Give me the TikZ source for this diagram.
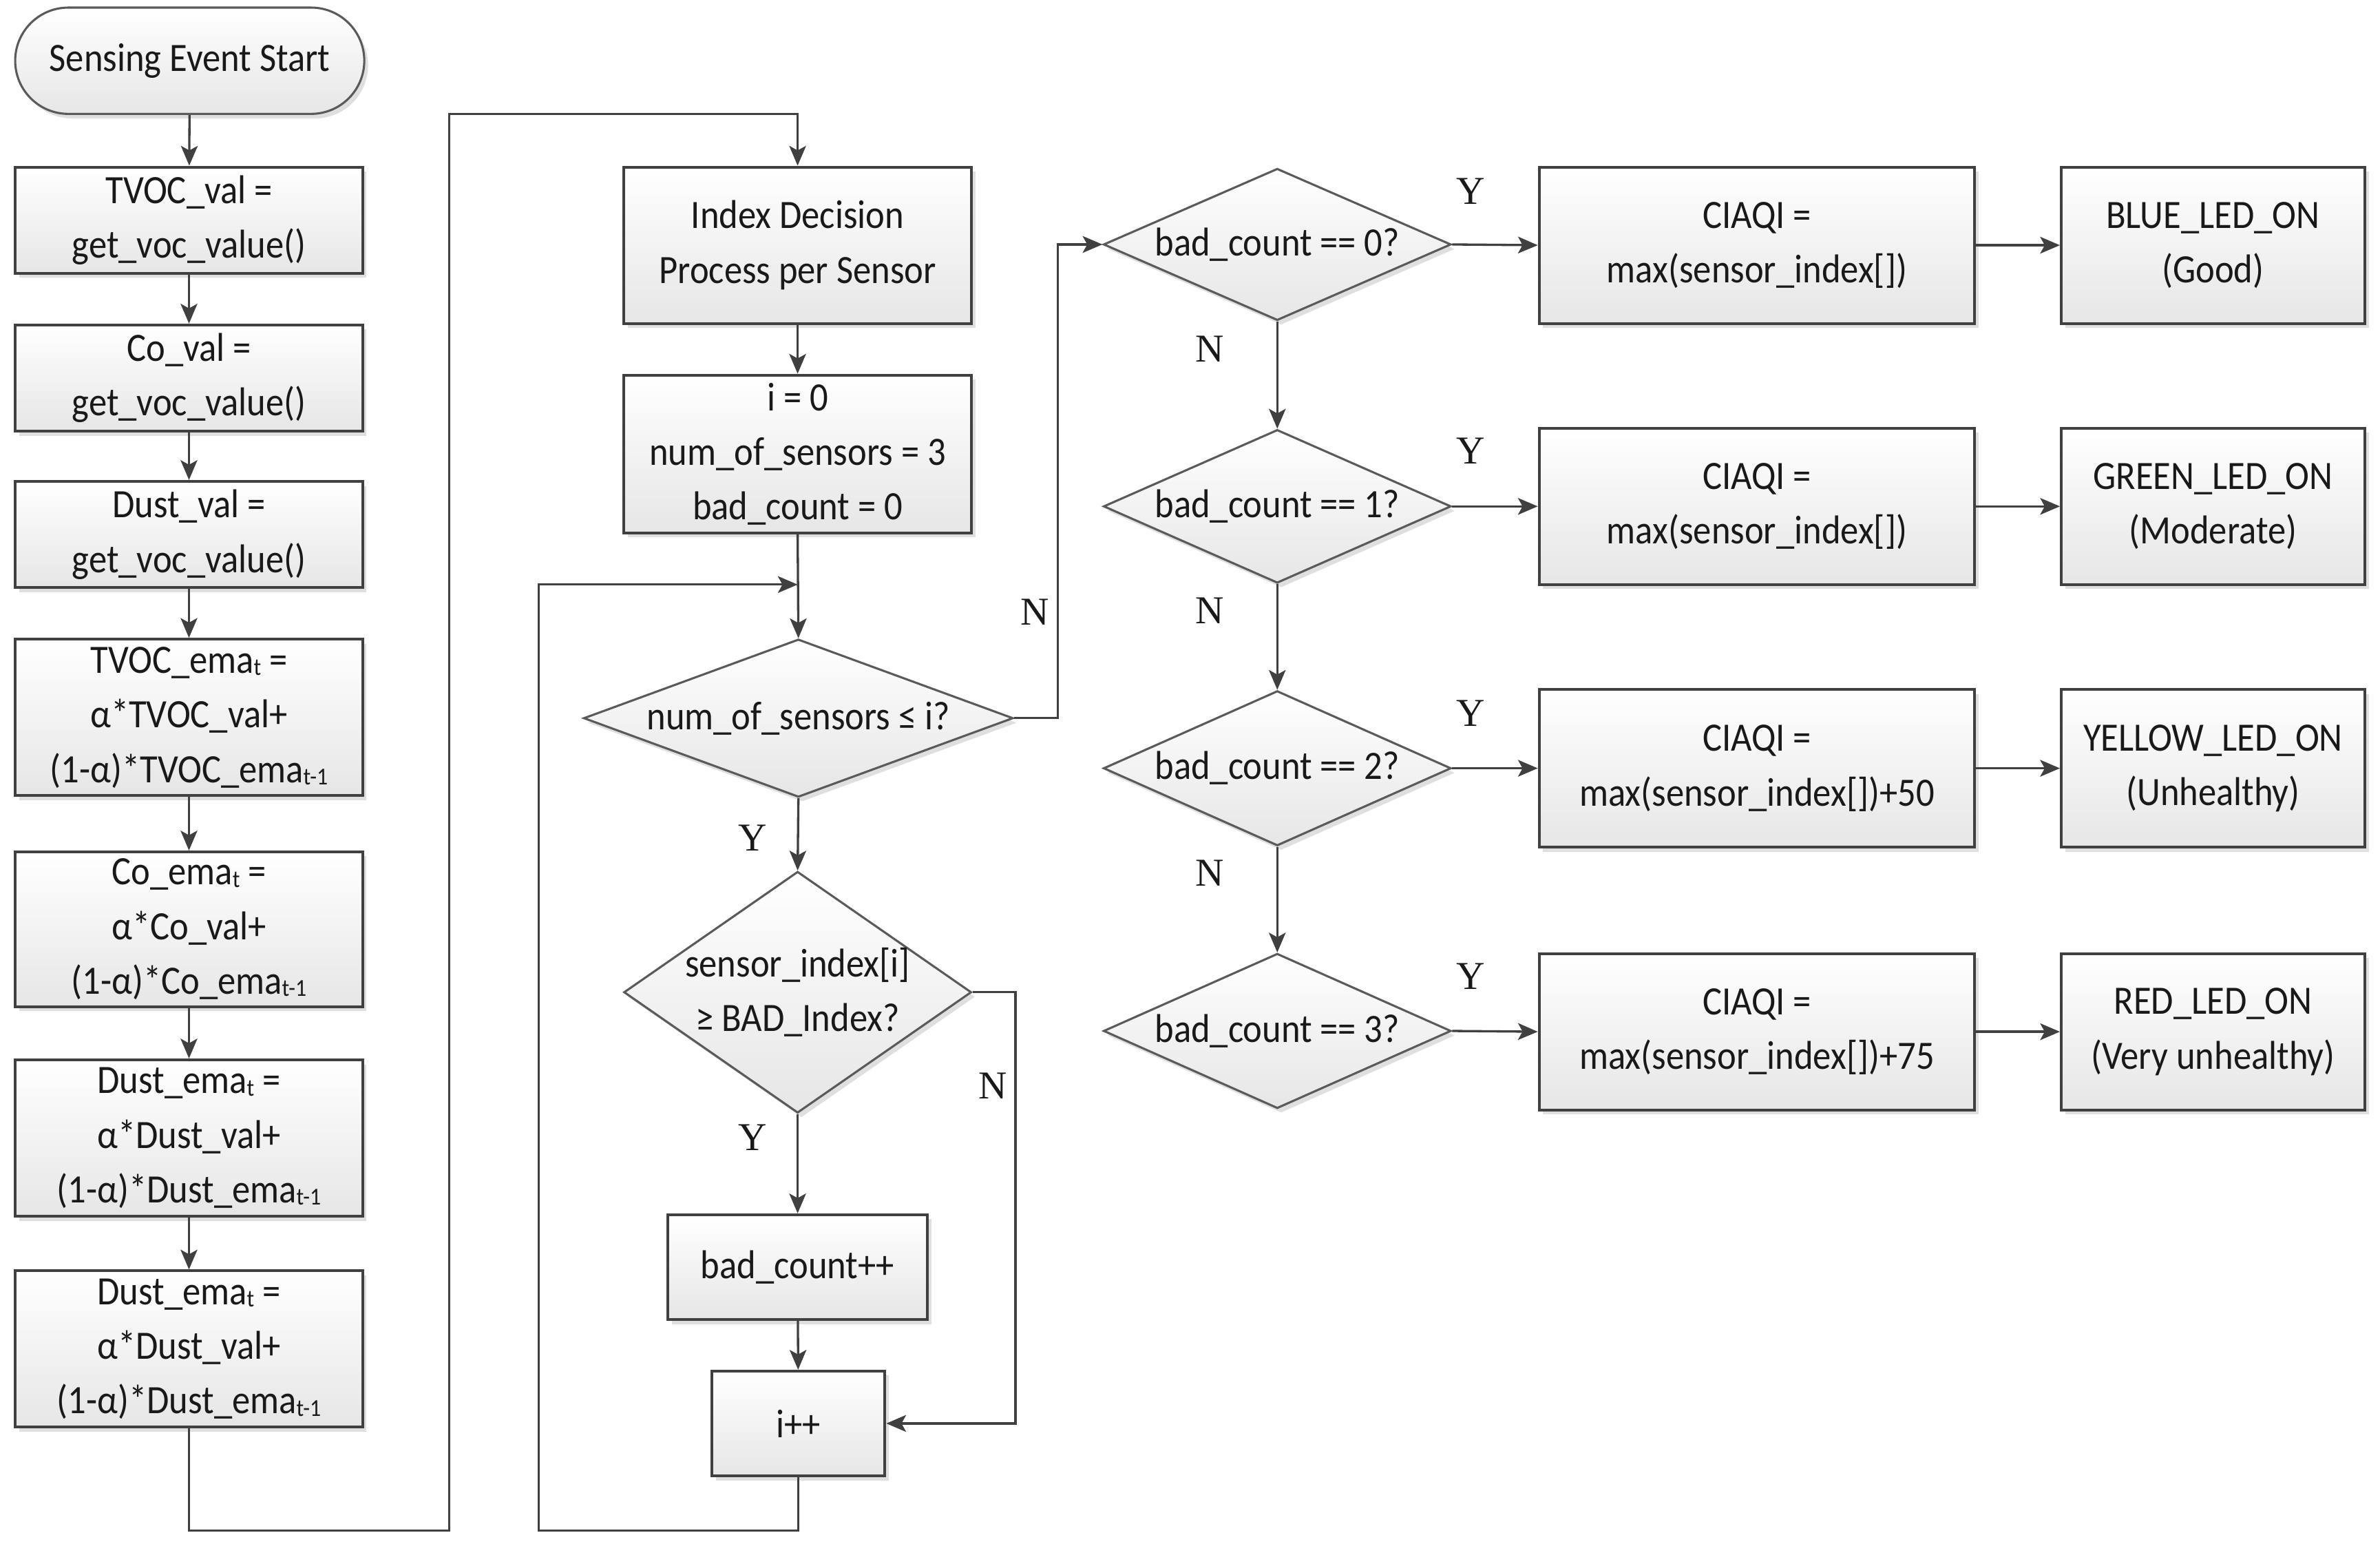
\documentclass[tikz,border=0pt]{standalone}
\usepackage{fontspec}
\setmainfont{Carlito}[FakeStretch=0.9]
\newfontfamily\ynfont{Liberation Serif}
\usetikzlibrary{arrows.meta,shapes.geometric,shapes.misc,shadows}
\definecolor{linec}{RGB}{64,64,64}
\definecolor{dline}{RGB}{90,90,90}
\definecolor{fillc}{RGB}{230,230,230}
\definecolor{txtc}{RGB}{25,25,25}
\newcommand\sbt[1]{\raisebox{-1.5pt}{\fontsize{16}{16}\selectfont #1}}
\begin{document}
\begin{tikzpicture}[x=1pt,y=-1pt,
  font=\fontsize{26.5}{36}\selectfont,
  every node/.style={text=txtc},
  shd/.style={drop shadow={shadow xshift=2.5pt,shadow yshift=-3pt,opacity=0.25,fill=gray}},
  box/.style={draw=linec,line width=1.8pt,top color=white,bottom color=fillc,
    inner sep=0pt,align=center,shd},
  dia/.style={diamond,draw=dline,line width=1.4pt,top color=white,bottom color=fillc,
    inner sep=0pt,shd},
  term/.style={rounded rectangle,draw=dline,line width=1.4pt,top color=white,bottom color=fillc,
    inner sep=0pt,shd},
  lbl/.style={align=center,inner sep=0pt},
  yn/.style={font=\ynfont\fontsize{26}{26}\selectfont,inner sep=0pt},
  arr/.style={draw=linec,line width=1.5pt,-{Stealth[length=13pt,width=11pt,inset=3pt]}},
  ln/.style={draw=linec,line width=1.5pt}]
\useasboundingbox (0,0) rectangle (1568,1016.5);
\fill[white] (0,0) rectangle (1568,1016.5);

% left column
\node[term,minimum width=230pt,minimum height=70pt] (start) at (125,40) {Sensing Event Start};
\node[box,minimum width=229pt,minimum height=70pt] (b1) at (124.5,145) {TVOC\_val =\\get\_voc\_value()};
\node[box,minimum width=229pt,minimum height=70pt] (b2) at (124.5,249) {Co\_val =\\get\_voc\_value()};
\node[box,minimum width=229pt,minimum height=70pt] (b3) at (124.5,352) {Dust\_val =\\get\_voc\_value()};
\node[box,minimum width=229pt,minimum height=103pt] (b4) at (124.5,472.5) {TVOC\_ema\sbt{t} =\\α*TVOC\_val+\\(1-α)*TVOC\_ema\sbt{t-1}};
\node[box,minimum width=229pt,minimum height=102pt] (b5) at (124.5,612) {Co\_ema\sbt{t} =\\α*Co\_val+\\(1-α)*Co\_ema\sbt{t-1}};
\node[box,minimum width=229pt,minimum height=103pt] (b6) at (124.5,749.5) {Dust\_ema\sbt{t} =\\α*Dust\_val+\\(1-α)*Dust\_ema\sbt{t-1}};
\node[box,minimum width=229pt,minimum height=103pt] (b7) at (124.5,888.5) {Dust\_ema\sbt{t} =\\α*Dust\_val+\\(1-α)*Dust\_ema\sbt{t-1}};

% middle column
\node[box,minimum width=229pt,minimum height=103pt] (idx) at (525.5,161.5) {Index Decision\\Process per Sensor};
\node[box,minimum width=229pt,minimum height=104pt] (init) at (525.5,299) {i = 0\\num\_of\_sensors = 3\\bad\_count = 0};
\node[dia,minimum width=283pt,minimum height=104pt] (d1) at (526,473) {};
\node[lbl] at (d1.center) {num\_of\_sensors ≤ i?};
\node[dia,minimum width=229pt,minimum height=159pt] (d2) at (525.5,653.5) {};
\node[lbl] at (d2.center) {sensor\_index[i]\\≥ BAD\_Index?};
\node[box,minimum width=171pt,minimum height=69pt] (bc) at (525.5,834.5) {bad\_count++};
\node[box,minimum width=114pt,minimum height=69pt] (inc) at (526,937.5) {i++};

% right part
\node[dia,minimum width=229pt,minimum height=100pt] (q0) at (841.5,161) {};
\node[lbl] at (q0.center) {bad\_count == 0?};
\node[dia,minimum width=229pt,minimum height=101pt] (q1) at (841.5,333.5) {};
\node[lbl] at (q1.center) {bad\_count == 1?};
\node[dia,minimum width=229pt,minimum height=102pt] (q2) at (841.5,506) {};
\node[lbl] at (q2.center) {bad\_count == 2?};
\node[dia,minimum width=229pt,minimum height=102pt] (q3) at (841.5,679) {};
\node[lbl] at (q3.center) {bad\_count == 3?};

\node[box,minimum width=287pt,minimum height=103pt] (c0) at (1157.5,161.5) {CIAQI =\\max(sensor\_index[])};
\node[box,minimum width=287pt,minimum height=103pt] (c1) at (1157.5,333.5) {CIAQI =\\max(sensor\_index[])};
\node[box,minimum width=287pt,minimum height=104pt] (c2) at (1157.5,506) {CIAQI =\\max(sensor\_index[])+50};
\node[box,minimum width=287pt,minimum height=103pt] (c3) at (1157.5,679.5) {CIAQI =\\max(sensor\_index[])+75};

\node[box,minimum width=200pt,minimum height=103pt] (l0) at (1458,161.5) {BLUE\_LED\_ON\\(Good)};
\node[box,minimum width=200pt,minimum height=103pt] (l1) at (1458,333.5) {GREEN\_LED\_ON\\(Moderate)};
\node[box,minimum width=200pt,minimum height=104pt] (l2) at (1458,506) {YELLOW\_LED\_ON\\(Unhealthy)};
\node[box,minimum width=200pt,minimum height=103pt] (l3) at (1458,679.5) {RED\_LED\_ON\\(Very unhealthy)};

% junction coordinates
\coordinate (j1) at (296,1008);
\coordinate (j2) at (296,75);
\coordinate (j3) at (697,300);
\coordinate (j4) at (669,800);
\coordinate (j5) at (355,1008);
\coordinate (j6) at (355,385);

% connectors
\draw[arr] (start) -- (b1);
\draw[arr] (b1) -- (b2);
\draw[arr] (b2) -- (b3);
\draw[arr] (b3) -- (b4);
\draw[arr] (b4) -- (b5);
\draw[arr] (b5) -- (b6);
\draw[arr] (b6) -- (b7);
\draw[arr] (b7.south) |- (j1) -- (j2) -| (idx.north);
\draw[arr] (idx) -- (init);
\draw[arr] (init.south) -- (d1.north);
\draw[arr] (inc.south) |- (j5) -- (j6) -- (j6 -| init.south);
\draw[arr] (d1.south) -- (d2.north);
\draw[arr] (d2.south) -- (bc.north);
\draw[arr] (bc) -- (inc);
\draw[arr] (d2.east) -- (d2.east -| j4) |- (inc.east);
\draw[arr] (d1.east) -- (d1.east -| j3) |- (q0.west);
\draw[arr] (q0.south) -- (q1.north);
\draw[arr] (q1.south) -- (q2.north);
\draw[arr] (q2.south) -- (q3.north);
\draw[arr] (q0.east) -- (c0.west);
\draw[arr] (q1.east) -- (c1.west);
\draw[arr] (q2.east) -- (c2.west);
\draw[arr] (q3.east) -- (c3.west);
\draw[arr] (c0) -- (l0);
\draw[arr] (c1) -- (l1);
\draw[arr] (c2) -- (l2);
\draw[arr] (c3) -- (l3);

% labels
\node[yn] (n1) at (682,403) {N};
\node[yn] (y1) at (496,552) {Y};
\node[yn] (y2) at (496,749) {Y};
\node[yn] (n2) at (654,715) {N};
\node[yn] (ya) at (969,126) {Y};
\node[yn] (yb) at (969,297) {Y};
\node[yn] (yc) at (969,470) {Y};
\node[yn] (yd) at (969,643) {Y};
\node[yn] (na) at (797,230) {N};
\node[yn] (nb) at (797,402) {N};
\node[yn] (nc) at (797,575) {N};
\end{tikzpicture}
\end{document}
